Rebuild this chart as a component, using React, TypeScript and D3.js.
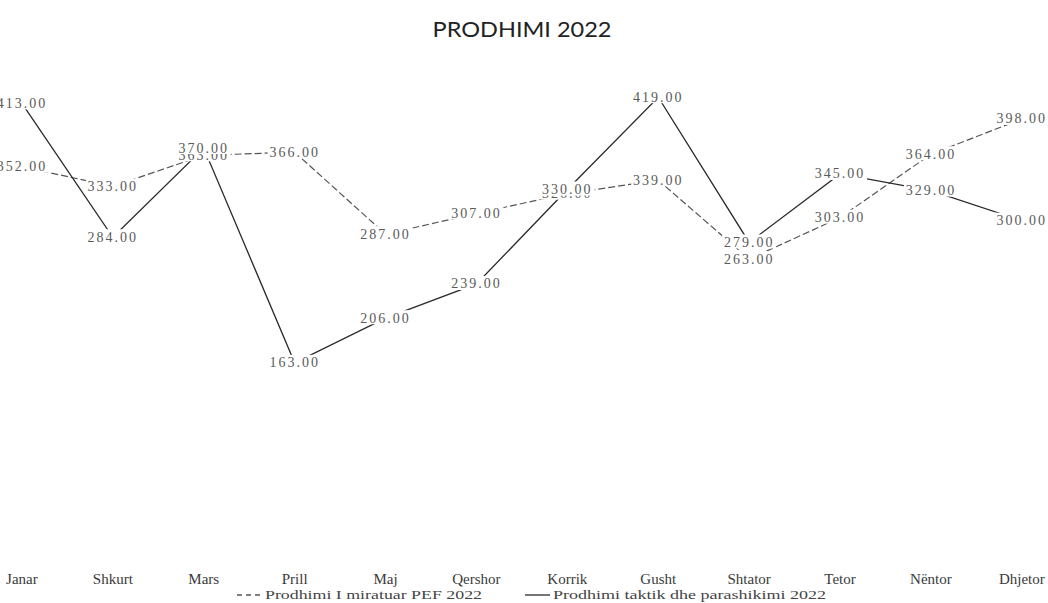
import * as d3 from "d3";

const months = ["Janar", "Shkurt", "Mars", "Prill", "Maj", "Qershor", "Korrik", "Gusht", "Shtator", "Tetor", "Nëntor", "Dhjetor"];
// Prodhimi I miratuar PEF 2022
const pef = [352, 333, 363, 366, 287, 307, 326, 339, 263, 303, 364, 398];
// Prodhimi taktik dhe parashikimi 2022
const taktik = [413, 284, 370, 163, 206, 239, 330, 419, 279, 345, 329, 300];
const seriesNames = ["Prodhimi I miratuar PEF 2022", "Prodhimi taktik dhe parashikimi 2022"];

const W = 1048;
const H = 603;

const App = () => {
  const x = d3.scaleBand<string>().domain(months).range([-23.5, 1067.3]);
  const y = d3.scaleLinear().domain([0, 450]).range([532, 65]);
  const cx = (m: string) => (x(m) ?? 0) + x.bandwidth() / 2;

  const line = d3
    .line<number>()
    .x((_, i) => cx(months[i]))
    .y((d) => y(d));

  const series = [
    { name: seriesNames[0], values: pef, stroke: "#555", dash: "7,3", width: 1.2 },
    { name: seriesNames[1], values: taktik, stroke: "#2a2a2a", dash: null, width: 1.3 },
  ];

  const labelFont = "'Liberation Serif', serif";

  return (
    <svg
      width={W}
      height={H}
      viewBox={`0 0 ${W} ${H}`}
      style={{ position: "absolute", left: 0, top: 0, background: "#fff" }}
    >
      <rect width={W} height={H} fill="#fff" />
      <text
        x={522}
        y={37}
        textAnchor="middle"
        fontFamily="Lato, 'Open Sans', sans-serif"
        fontSize={21}
        fill="#222"
        textLength={179}
        lengthAdjust="spacingAndGlyphs"
      >
        PRODHIMI 2022
      </text>

      {series.map((s) => (
        <path
          key={s.name}
          d={line(s.values) ?? ""}
          fill="none"
          stroke={s.stroke}
          strokeWidth={s.width}
          strokeDasharray={s.dash ?? undefined}
        />
      ))}

      {series.map((s) =>
        s.values.map((v, i) => {
          const px = cx(months[i]);
          const py = y(v);
          return (
            <g key={s.name + i}>
              <rect x={px - 27} y={py - 8} width={54} height={14} fill="#fff" />
              <text
                x={px}
                y={py}
                textAnchor="middle"
                dominantBaseline="central"
                fontFamily={labelFont}
                fontSize={14}
                letterSpacing={2}
                fill="#5a5a5a"
              >
                {v.toFixed(2)}
              </text>
            </g>
          );
        })
      )}

      {months.map((m) => (
        <text
          key={m}
          x={cx(m)}
          y={584}
          textAnchor="middle"
          fontFamily={labelFont}
          fontSize={15}
          fill="#3a3a3a"
        >
          {m}
        </text>
      ))}

      <g fontFamily={labelFont} fontSize={13} fill="#444">
        <line x1={237} x2={262} y1={595} y2={595} stroke={series[0].stroke} strokeWidth={1.3} strokeDasharray="5,4" />
        <text x={265} y={599} textLength={217} lengthAdjust="spacingAndGlyphs">
          {seriesNames[0]}
        </text>
        <line x1={525} x2={550} y1={595} y2={595} stroke={series[1].stroke} strokeWidth={1.3} />
        <text x={553} y={599} textLength={273} lengthAdjust="spacingAndGlyphs">
          {seriesNames[1]}
        </text>
      </g>
    </svg>
  );
};

export default App;
